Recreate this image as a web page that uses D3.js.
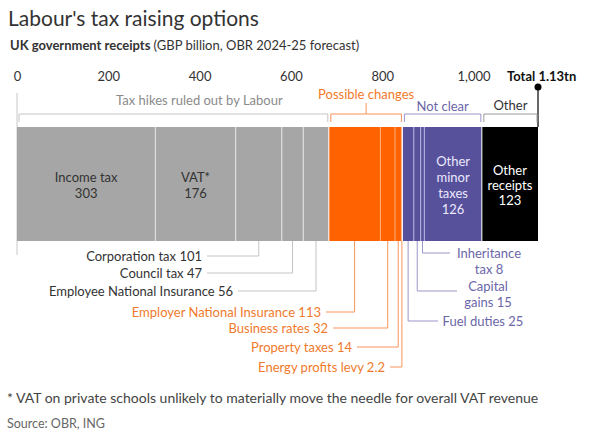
<!DOCTYPE html>
<html><head><meta charset="utf-8">
<script src="https://cdn.jsdelivr.net/npm/d3@7"></script>
<style>
body{margin:0;background:#fff;}
svg{font-family:Lato,"Noto Sans",sans-serif;}
</style></head><body>
<svg id="chart" width="600" height="437"></svg>
<script>
const categories = ["Income tax","VAT*","Corporation tax","Council tax","Employee National Insurance","Employer National Insurance","Business rates","Property taxes","Energy profits levy","Fuel duties","Capital gains","Inheritance tax","Other minor taxes","Other receipts"];
const values = [303,176,101,47,56,113,32,14,2.2,25,15,8,126,123];
const groups = ["ruled","ruled","ruled","ruled","ruled","possible","possible","possible","possible","unclear","unclear","unclear","unclear","other"];
const groupNames = ["ruled","possible","unclear","other"];
const groupLabels = ["Tax hikes ruled out by Labour","Possible changes","Not clear","Other"];
const tickValues = [0,200,400,600,800,1000];
const totalLabel = "Total 1.13tn";

const svg = d3.select("#chart");
const colors = {ruled:"#a6a6a6",possible:"#ff6200",unclear:"#57519b",other:"#000000"};
const sepColors = {ruled:"#e6e6e6",possible:"#ffb07a",unclear:"#b9b5e0",other:"#000"};
const textColors = {ruled:"#333333",possible:"#f07a2c",unclear:"#6b67a8",other:"#333333"};
const bracketColors = {ruled:"#c4c4c4",possible:"#f7955a",unclear:"#9a97c8",other:"#9a9a9a"};

// cumulative
let acc = 0;
const segs = values.map((v,i)=>{const s={name:categories[i],value:v,group:groups[i],x0:acc,x1:acc+v};acc+=v;return s;});
const total = acc;

const x = d3.scaleLinear().domain([0,total]).range([17,538]);
const barTop = 127, barBot = 241;

// title
svg.append("text").attr("x",8).attr("y",26).attr("font-size",21).attr("fill","#333").text("Labour's tax raising options");
const sub = svg.append("text").attr("x",10).attr("y",50).attr("font-size",13).attr("fill","#333");
sub.append("tspan").attr("font-weight","bold").text("UK government receipts ");
sub.append("tspan").text("(GBP billion, OBR 2024-25 forecast)");

// axis
const axis = d3.axisTop(x).tickValues(tickValues).tickFormat(d3.format(",")).tickSize(0).tickPadding(0);
const ag = svg.append("g").attr("transform","translate(0,81)").call(axis);
ag.select(".domain").remove();
ag.selectAll("text").attr("font-size",13).attr("fill","#333").attr("font-family","Lato,'Noto Sans',sans-serif");

// zero line
svg.append("line").attr("x1",x(0)).attr("x2",x(0)).attr("y1",93).attr("y2",255).attr("stroke","#c8c8c8").attr("stroke-width",1);

// total marker
svg.append("line").attr("x1",x(total)).attr("x2",x(total)).attr("y1",87).attr("y2",barTop).attr("stroke","#000").attr("stroke-width",1.2);
svg.append("circle").attr("cx",x(total)).attr("cy",87).attr("r",3.5).attr("fill","#000");
svg.append("text").attr("x",x(total)-31).attr("y",81).attr("font-size",13).attr("font-weight","bold").attr("fill","#111").text(totalLabel);

// bars
svg.append("g").selectAll("rect").data(segs).join("rect")
  .attr("x",d=>x(d.x0)).attr("y",barTop).attr("width",d=>x(d.x1)-x(d.x0)).attr("height",barBot-barTop)
  .attr("fill",d=>colors[d.group]);
// separators
svg.append("g").selectAll("line").data(segs.slice(1)).join("line")
  .attr("x1",d=>x(d.x0)).attr("x2",d=>x(d.x0)).attr("y1",barTop).attr("y2",barBot)
  .attr("stroke",(d,i)=>{const prev=segs[i]; return prev.group===d.group?sepColors[d.group]:"#ffffff";}).attr("stroke-width",1);

// group brackets
const bracketY = 114, bracketTick = 8;
const groupLabelY = {ruled:105,possible:99,unclear:111,other:110};
groupNames.forEach((g,gi)=>{
  const gs = segs.filter(s=>s.group===g);
  const a = x(gs[0].x0)+2, b = x(gs[gs.length-1].x1)-1;
  svg.append("path").attr("d",`M${a},${bracketY+bracketTick}V${bracketY}H${b}V${bracketY+bracketTick}`)
    .attr("fill","none").attr("stroke",bracketColors[g]).attr("stroke-width",1);
  const cx = g==="ruled" ? (a+b)/2 + 26 : (a+b)/2;
  svg.append("text").attr("x",cx).attr("y",groupLabelY[g]).attr("text-anchor","middle").attr("font-size",13)
    .attr("fill", g==="ruled"?"#8a8a8a":(g==="possible"?"#f07a2c":(g==="unclear"?"#6b67a8":"#333"))).text(groupLabels[gi]);
  if(g==="possible"){
    svg.append("line").attr("x1",(a+b)/2).attr("x2",(a+b)/2).attr("y1",103).attr("y2",bracketY).attr("stroke",bracketColors[g]);
  }
});

// inside-bar labels
function inside(name, lines, ys, col){
  const s = segs.find(d=>d.name===name);
  const cx = (x(s.x0)+x(s.x1))/2;
  const t = svg.append("text").attr("text-anchor","middle").attr("font-size",13).attr("fill",col);
  lines.forEach((l,i)=>t.append("tspan").attr("x",cx).attr("y",ys[i]).text(l));
}
const segVal = n=>segs.find(d=>d.name===n).value;
inside("Income tax",["Income tax",String(segVal("Income tax"))],[182,198],"#333");
inside("VAT*",["VAT*",String(segVal("VAT*"))],[182,198],"#333");
inside("Other minor taxes",["Other","minor","taxes",String(segVal("Other minor taxes"))],[166,182,198,214],"#ece9ff");
inside("Other receipts",["Other","receipts",String(segVal("Other receipts"))],[175,190,205],"#ffffff");

// leader annotations (left side)
const leftAnn = [
  {name:"Corporation tax",label:"Corporation tax ",y:256,lx:207},
  {name:"Council tax",label:"Council tax ",y:273,lx:207},
  {name:"Employee National Insurance",label:"Employee National Insurance ",y:291,lx:238},
  {name:"Employer National Insurance",label:"Employer National Insurance ",y:312,lx:326},
  {name:"Business rates",label:"Business rates ",y:328,lx:333},
  {name:"Property taxes",label:"Property taxes ",y:347,lx:357},
  {name:"Energy profits levy",label:"Energy profits levy ",y:367,lx:390}
];
leftAnn.forEach(a=>{
  const s = segs.find(d=>d.name===a.name);
  const cx = (x(s.x0)+x(s.x1))/2;
  svg.append("path").attr("d",`M${cx},${barBot}V${a.y}H${a.lx}`).attr("fill","none").attr("stroke",bracketColors[s.group]).attr("stroke-width",1);
  svg.append("text").attr("x",a.lx-5).attr("y",a.y+4.5).attr("text-anchor","end").attr("font-size",13)
    .attr("fill",textColors[s.group]).text(a.label+s.value);
});

// right side annotations
const rightAnn = [
  {name:"Inheritance tax",lines:["Inheritance","tax "],y:253,lx:450,ty:[258,274],tx:489},
  {name:"Capital gains",lines:["Capital","gains "],y:291,lx:457,ty:[291,307],tx:488},
  {name:"Fuel duties",lines:["Fuel duties "],y:321,lx:438,ty:[326],tx:483}
];
rightAnn.forEach(a=>{
  const s = segs.find(d=>d.name===a.name);
  const cx = (x(s.x0)+x(s.x1))/2;
  svg.append("path").attr("d",`M${cx},${barBot}V${a.y}H${a.lx}`).attr("fill","none").attr("stroke",bracketColors[s.group]).attr("stroke-width",1);
  const t = svg.append("text").attr("text-anchor","middle").attr("font-size",13).attr("fill",textColors[s.group]);
  a.lines.forEach((l,i)=>t.append("tspan").attr("x",a.tx).attr("y",a.ty[i]).text(i===a.lines.length-1? l+s.value : l));
});

// footnotes
svg.append("text").attr("x",7).attr("y",403).attr("font-size",14).attr("fill","#444").text("* VAT on private schools unlikely to materially move the needle for overall VAT revenue");
svg.append("text").attr("x",7).attr("y",428).attr("font-size",12.5).attr("fill","#666").text("Source: OBR, ING");
</script></body></html>
